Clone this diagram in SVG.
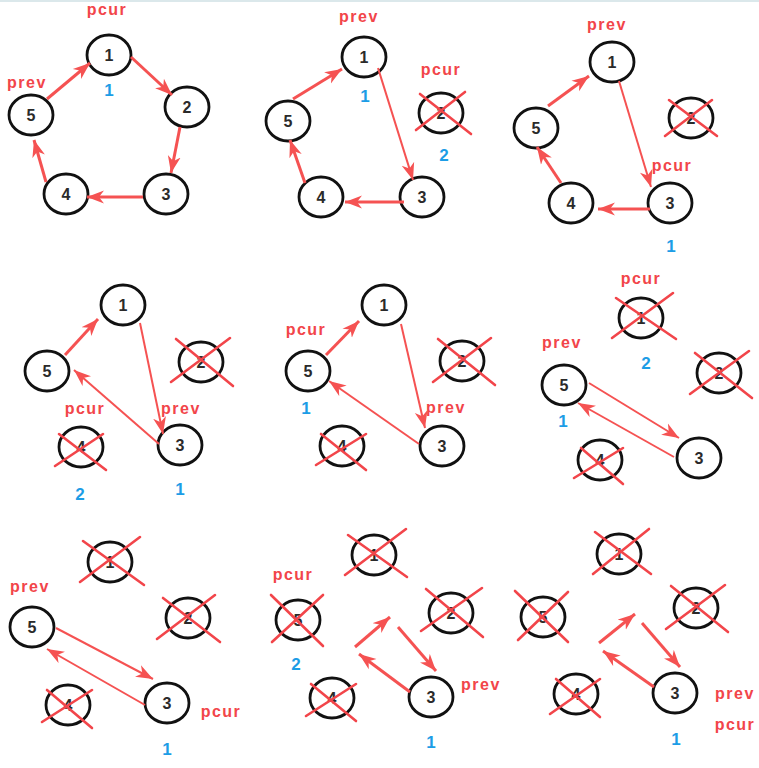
<svg xmlns="http://www.w3.org/2000/svg" width="759" height="768" viewBox="0 0 759 768">
<defs>
<style>
.nd{fill:#fff;stroke:#111;stroke-width:2.8}
.num{font-family:"Liberation Sans",Arial,sans-serif;font-weight:bold;font-size:16px;fill:#2a2a2a;text-anchor:middle}
.lbl{font-family:"Liberation Sans",Arial,sans-serif;font-weight:bold;font-size:16px;fill:#f2454a;text-anchor:middle;letter-spacing:1.5px}
.cnt{font-family:"Liberation Sans",Arial,sans-serif;font-weight:bold;font-size:17px;fill:#1c9de6;text-anchor:middle}
.x{stroke:#f2454a;stroke-width:2.6;stroke-linecap:round}
.ar{stroke:#f55252;stroke-width:3;fill:none;marker-end:url(#ah)}
.ar2{stroke:#f55252;stroke-width:2;fill:none;marker-end:url(#ah)}
</style>
<marker id="ah" markerWidth="18" markerHeight="14" refX="17" refY="7" orient="auto" markerUnits="userSpaceOnUse">
<path d="M0,0.5 L17,7 L0,13.5 L5,7 Z" fill="#f55252"/>
</marker>
</defs>
<rect width="759" height="768" fill="#fff"/>
<line x1="0" y1="1" x2="759" y2="1" stroke="#dbe8eb" stroke-width="2"/>

<!-- Panel 1 -->
<g id="p1-n1"><ellipse class="nd" cx="109" cy="55" rx="22" ry="20"/><text class="num" x="109" y="61">1</text></g>
<g id="p1-n2"><ellipse class="nd" cx="187" cy="107" rx="22" ry="20"/><text class="num" x="187" y="113">2</text></g>
<g id="p1-n3"><ellipse class="nd" cx="166" cy="194" rx="22" ry="20"/><text class="num" x="166" y="200">3</text></g>
<g id="p1-n4"><ellipse class="nd" cx="66" cy="194" rx="22" ry="20"/><text class="num" x="66" y="200">4</text></g>
<g id="p1-n5"><ellipse class="nd" cx="31" cy="115" rx="22" ry="20"/><text class="num" x="31" y="121">5</text></g>
<g id="p1-labels"><text class="lbl" x="107" y="15">pcur</text><text class="lbl" x="27" y="88">prev</text><text class="cnt" x="109" y="96">1</text></g>

<!-- Panel 2 -->
<g id="p2-n1"><ellipse class="nd" cx="364" cy="57" rx="22" ry="20"/><text class="num" x="364" y="63">1</text></g>
<g id="p2-n2"><ellipse class="nd" cx="441" cy="113" rx="22" ry="20"/><text class="num" x="441" y="119">2</text><line class="x" x1="416" y1="130" x2="465" y2="92"/><line class="x" x1="420" y1="94" x2="471" y2="134"/></g>
<g id="p2-n3"><ellipse class="nd" cx="422" cy="197" rx="22" ry="20"/><text class="num" x="422" y="203">3</text></g>
<g id="p2-n4"><ellipse class="nd" cx="321" cy="197" rx="22" ry="20"/><text class="num" x="321" y="203">4</text></g>
<g id="p2-n5"><ellipse class="nd" cx="288" cy="121" rx="22" ry="20"/><text class="num" x="288" y="127">5</text></g>
<g id="p2-labels"><text class="lbl" x="359" y="22">prev</text><text class="lbl" x="441" y="75">pcur</text><text class="cnt" x="365" y="102">1</text><text class="cnt" x="444" y="161">2</text></g>

<!-- Panel 3 -->
<g id="p3-n1"><ellipse class="nd" cx="612" cy="62" rx="22" ry="20"/><text class="num" x="612" y="68">1</text></g>
<g id="p3-n2"><ellipse class="nd" cx="691" cy="118" rx="22" ry="20"/><text class="num" x="691" y="124">2</text><line class="x" x1="665" y1="136" x2="712" y2="100"/><line class="x" x1="669" y1="100" x2="717" y2="136"/></g>
<g id="p3-n3"><ellipse class="nd" cx="670" cy="203" rx="22" ry="20"/><text class="num" x="670" y="209">3</text></g>
<g id="p3-n4"><ellipse class="nd" cx="571" cy="203" rx="22" ry="20"/><text class="num" x="571" y="209">4</text></g>
<g id="p3-n5"><ellipse class="nd" cx="536" cy="128" rx="22" ry="20"/><text class="num" x="536" y="134">5</text></g>
<g id="p3-labels"><text class="lbl" x="607" y="30">prev</text><text class="lbl" x="672" y="171">pcur</text><text class="cnt" x="671" y="252">1</text></g>

<!-- Panel 4 -->
<g id="p4-n1"><ellipse class="nd" cx="123" cy="305" rx="22" ry="20"/><text class="num" x="123" y="311">1</text></g>
<g id="p4-n2"><ellipse class="nd" cx="201" cy="362" rx="22" ry="20"/><text class="num" x="201" y="368">2</text><line class="x" x1="171" y1="382" x2="230" y2="338"/><line class="x" x1="176" y1="339" x2="233" y2="386"/></g>
<g id="p4-n3"><ellipse class="nd" cx="180" cy="445" rx="22" ry="20"/><text class="num" x="180" y="451">3</text></g>
<g id="p4-n4"><ellipse class="nd" cx="81" cy="447" rx="22" ry="20"/><text class="num" x="81" y="453">4</text><line class="x" x1="55" y1="466" x2="103" y2="434"/><line class="x" x1="59" y1="434" x2="106" y2="470"/></g>
<g id="p4-n5"><ellipse class="nd" cx="47" cy="371" rx="22" ry="20"/><text class="num" x="47" y="377">5</text></g>
<g id="p4-labels"><text class="lbl" x="85" y="414">pcur</text><text class="lbl" x="181" y="414">prev</text><text class="cnt" x="80" y="500">2</text><text class="cnt" x="180" y="495">1</text></g>

<!-- Panel 5 -->
<g id="p5-n1"><ellipse class="nd" cx="384" cy="305" rx="22" ry="20"/><text class="num" x="384" y="311">1</text></g>
<g id="p5-n2"><ellipse class="nd" cx="462" cy="361" rx="22" ry="20"/><text class="num" x="462" y="367">2</text><line class="x" x1="433" y1="382" x2="491" y2="338"/><line class="x" x1="438" y1="339" x2="495" y2="385"/></g>
<g id="p5-n3"><ellipse class="nd" cx="442" cy="446" rx="22" ry="20"/><text class="num" x="442" y="452">3</text></g>
<g id="p5-n4"><ellipse class="nd" cx="342" cy="446" rx="22" ry="20"/><text class="num" x="342" y="452">4</text><line class="x" x1="316" y1="465" x2="366" y2="434"/><line class="x" x1="321" y1="434" x2="366" y2="470"/></g>
<g id="p5-n5"><ellipse class="nd" cx="308" cy="371" rx="22" ry="20"/><text class="num" x="308" y="377">5</text></g>
<g id="p5-labels"><text class="lbl" x="306" y="335">pcur</text><text class="lbl" x="446" y="413">prev</text><text class="cnt" x="306" y="414">1</text></g>

<!-- Panel 6 -->
<g id="p6-n1"><ellipse class="nd" cx="641" cy="318" rx="22" ry="20"/><text class="num" x="641" y="324">1</text><line class="x" x1="612" y1="338" x2="673" y2="293"/><line class="x" x1="616" y1="298" x2="676" y2="339"/></g>
<g id="p6-n2"><ellipse class="nd" cx="719" cy="373" rx="22" ry="20"/><text class="num" x="719" y="379">2</text><line class="x" x1="690" y1="394" x2="749" y2="351"/><line class="x" x1="695" y1="353" x2="752" y2="398"/></g>
<g id="p6-n3"><ellipse class="nd" cx="699" cy="458" rx="22" ry="20"/><text class="num" x="699" y="464">3</text></g>
<g id="p6-n4"><ellipse class="nd" cx="600" cy="460" rx="22" ry="20"/><text class="num" x="600" y="466">4</text><line class="x" x1="574" y1="478" x2="623" y2="448"/><line class="x" x1="581" y1="448" x2="623" y2="484"/></g>
<g id="p6-n5"><ellipse class="nd" cx="564" cy="385" rx="22" ry="20"/><text class="num" x="564" y="391">5</text></g>
<g id="p6-labels"><text class="lbl" x="641" y="284">pcur</text><text class="lbl" x="562" y="348">prev</text><text class="cnt" x="646" y="369">2</text><text class="cnt" x="563" y="427">1</text></g>

<!-- Panel 7 -->
<g id="p7-n1"><ellipse class="nd" cx="110" cy="562" rx="22" ry="20"/><text class="num" x="110" y="568">1</text><line class="x" x1="80" y1="582" x2="140" y2="537"/><line class="x" x1="83" y1="541" x2="144" y2="585"/></g>
<g id="p7-n2"><ellipse class="nd" cx="188" cy="618" rx="22" ry="20"/><text class="num" x="188" y="624">2</text><line class="x" x1="157" y1="639" x2="215" y2="595"/><line class="x" x1="163" y1="598" x2="220" y2="642"/></g>
<g id="p7-n3"><ellipse class="nd" cx="167" cy="703" rx="22" ry="20"/><text class="num" x="167" y="709">3</text></g>
<g id="p7-n4"><ellipse class="nd" cx="68" cy="705" rx="22" ry="20"/><text class="num" x="68" y="711">4</text><line class="x" x1="42" y1="722" x2="92" y2="690"/><line class="x" x1="47" y1="690" x2="92" y2="728"/></g>
<g id="p7-n5"><ellipse class="nd" cx="32" cy="627" rx="22" ry="20"/><text class="num" x="32" y="633">5</text></g>
<g id="p7-labels"><text class="lbl" x="30" y="592">prev</text><text class="lbl" x="221" y="717">pcur</text><text class="cnt" x="167" y="755">1</text></g>

<!-- Panel 8 -->
<g id="p8-n1"><ellipse class="nd" cx="374" cy="555" rx="22" ry="20"/><text class="num" x="374" y="561">1</text><line class="x" x1="345" y1="575" x2="406" y2="529"/><line class="x" x1="348" y1="535" x2="407" y2="577"/></g>
<g id="p8-n2"><ellipse class="nd" cx="451" cy="613" rx="22" ry="20"/><text class="num" x="451" y="619">2</text><line class="x" x1="421" y1="631" x2="482" y2="588"/><line class="x" x1="426" y1="589" x2="483" y2="637"/></g>
<g id="p8-n3"><ellipse class="nd" cx="431" cy="697" rx="22" ry="20"/><text class="num" x="431" y="703">3</text></g>
<g id="p8-n4"><ellipse class="nd" cx="332" cy="698" rx="22" ry="20"/><text class="num" x="332" y="704">4</text><line class="x" x1="306" y1="716" x2="356" y2="684"/><line class="x" x1="311" y1="684" x2="356" y2="721"/></g>
<g id="p8-n5"><ellipse class="nd" cx="298" cy="620" rx="22" ry="20"/><text class="num" x="298" y="626">5</text><line class="x" x1="272" y1="642" x2="323" y2="595"/><line class="x" x1="271" y1="595" x2="323" y2="646"/></g>
<g id="p8-labels"><text class="lbl" x="293" y="580">pcur</text><text class="lbl" x="481" y="690">prev</text><text class="cnt" x="296" y="670">2</text><text class="cnt" x="431" y="748">1</text></g>

<!-- Panel 9 -->
<g id="p9-n1"><ellipse class="nd" cx="619" cy="554" rx="22" ry="20"/><text class="num" x="619" y="560">1</text><line class="x" x1="593" y1="574" x2="649" y2="529"/><line class="x" x1="595" y1="532" x2="651" y2="574"/></g>
<g id="p9-n2"><ellipse class="nd" cx="696" cy="608" rx="22" ry="20"/><text class="num" x="696" y="614">2</text><line class="x" x1="666" y1="629" x2="725" y2="585"/><line class="x" x1="671" y1="586" x2="728" y2="632"/></g>
<g id="p9-n3"><ellipse class="nd" cx="675" cy="693" rx="22" ry="20"/><text class="num" x="675" y="699">3</text></g>
<g id="p9-n4"><ellipse class="nd" cx="576" cy="694" rx="22" ry="20"/><text class="num" x="576" y="700">4</text><line class="x" x1="550" y1="714" x2="600" y2="679"/><line class="x" x1="556" y1="679" x2="600" y2="717"/></g>
<g id="p9-n5"><ellipse class="nd" cx="543" cy="617" rx="22" ry="20"/><text class="num" x="543" y="623">5</text><line class="x" x1="518" y1="640" x2="568" y2="592"/><line class="x" x1="515" y1="591" x2="568" y2="642"/></g>
<g id="p9-labels"><text class="lbl" x="735" y="699">prev</text><text class="lbl" x="735" y="730">pcur</text><text class="cnt" x="676" y="745">1</text></g>

<g id="connectors">
<line class="ar" x1="131" y1="57" x2="172" y2="95"/>
<line class="ar" x1="180" y1="127" x2="171" y2="173"/>
<line class="ar" x1="143" y1="197" x2="87" y2="197"/>
<line class="ar" x1="46" y1="182" x2="34" y2="140"/>
<line class="ar" x1="47" y1="99" x2="90" y2="63"/>

<line class="ar" x1="293" y1="99" x2="342" y2="69"/>
<line class="ar2" x1="378" y1="68" x2="413" y2="180"/>
<line class="ar" x1="404" y1="202" x2="345" y2="202"/>
<line class="ar" x1="305" y1="183" x2="290" y2="140"/>

<line class="ar" x1="548" y1="106" x2="589" y2="76"/>
<line class="ar2" x1="619" y1="81" x2="651" y2="187"/>
<line class="ar" x1="650" y1="209" x2="598" y2="209"/>
<line class="ar" x1="561" y1="183" x2="537" y2="147"/>

<line class="ar" x1="65" y1="355" x2="98" y2="319"/>
<line class="ar2" x1="140" y1="323" x2="163" y2="434"/>
<line class="ar2" x1="159" y1="444" x2="74" y2="370"/>

<line class="ar" x1="326" y1="355" x2="359" y2="321"/>
<line class="ar2" x1="401" y1="324" x2="425" y2="428"/>
<line class="ar2" x1="419" y1="444" x2="329" y2="381"/>

<line class="ar2" x1="589" y1="383" x2="679" y2="438"/>
<line class="ar2" x1="674" y1="457" x2="578" y2="403"/>

<line class="ar2" x1="56" y1="628" x2="153" y2="679"/>
<line class="ar2" x1="145" y1="705" x2="47" y2="649"/>

<line class="ar" x1="355" y1="647" x2="390" y2="617"/>
<line class="ar" x1="398" y1="627" x2="436" y2="671"/>
<line class="ar" x1="410" y1="692" x2="359" y2="654"/>

<line class="ar" x1="599" y1="643" x2="635" y2="614"/>
<line class="ar" x1="642" y1="623" x2="680" y2="667"/>
<line class="ar" x1="654" y1="687" x2="603" y2="651"/>
</g>
</svg>
